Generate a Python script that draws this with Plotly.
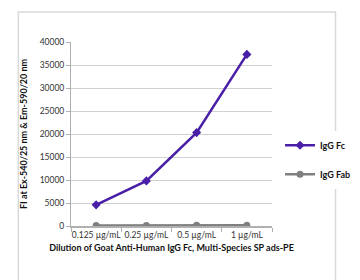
import plotly.graph_objects as go

categories = ["0.125 µg/mL", "0.25 µg/mL", "0.5 µg/mL", "1 µg/mL"]
igg_fc = [4600, 9800, 20300, 37300]
igg_fab = [120, 130, 140, 170]
y_ticks = [0, 5000, 10000, 15000, 20000, 25000, 30000, 35000, 40000]
y_tick_labels = [str(v) for v in y_ticks]

FONT = "Lato"

fig = go.Figure()
fig.add_trace(go.Scatter(
    x=categories, y=igg_fc, name="IgG Fc", mode="lines+markers",
    legendgroup="a",
    line=dict(color="#4a1fa8", width=2.5),
    marker=dict(symbol="diamond", size=7, color="#4a1fa8"),
))
fig.add_trace(go.Scatter(
    x=categories, y=igg_fab, name="IgG Fab", mode="lines+markers",
    legendgroup="b",
    line=dict(color="#7f7f7f", width=2.5),
    marker=dict(symbol="circle", size=7, color="#7f7f7f"),
))

fig.update_layout(
    width=360, height=280,
    margin=dict(l=63, r=72, t=34, b=62),
    paper_bgcolor="white", plot_bgcolor="white",
    font=dict(family=FONT, size=9, color="#222"),
    legend=dict(x=1.04, y=0.36, xanchor="left", yanchor="middle",
                tracegroupgap=10, font=dict(size=9, color="#111", family=FONT, weight="bold"),
                itemwidth=30),
    xaxis=dict(
        type="category", range=[-0.5, 3.5],
        showline=True, linecolor="#b0b0b0", linewidth=1.5,
        ticks="outside", tickson="boundaries", ticklen=4, tickcolor="#b0b0b0",
        showgrid=False, tickangle=0,
        tickfont=dict(size=8.5, color="#333"),
        title=dict(text="<b>Dilution of Goat Anti-Human IgG Fc, Multi-Species SP ads-PE</b>",
                   font=dict(size=9, color="#111"), standoff=6),
    ),
    yaxis=dict(
        range=[0, 40000], tickvals=y_ticks, ticktext=y_tick_labels,
        showline=True, linecolor="#b0b0b0", linewidth=1,
        ticks="outside", ticklen=4, tickcolor="#b0b0b0",
        showgrid=True, gridcolor="#d0d0d0", gridwidth=1.2,
        zeroline=False,
        tickfont=dict(size=8.5, color="#333"),
        title=dict(text="<b>FI at Ex-540/25 nm & Em-590/20 nm</b>",
                   font=dict(size=9, color="#111"), standoff=10),
    ),
    shapes=[dict(type="rect", xref="paper", yref="paper",
                 x0=-0.262, x1=1.316, y0=-0.326, y1=1.163,
                 line=dict(color="#d9d9d9", width=1.5), layer="below")],
)

fig.write_html("out.html")
